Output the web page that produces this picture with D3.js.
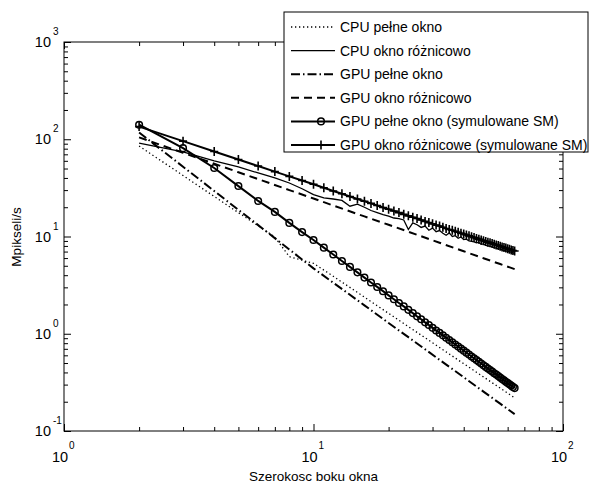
<!DOCTYPE html>
<html>
<head>
<meta charset="utf-8">
<script src="https://cdnjs.cloudflare.com/ajax/libs/d3/7.8.5/d3.min.js"></script>
<style>
  body { margin: 0; background: #fff; }
  text { font-family: "Liberation Sans", Arial, sans-serif; fill: #000; }
</style>
</head>
<body>
<div id="chart"></div>
<script>
// window widths (x) shared by the two marker series
const winX = [2,3,4,5,6,7,8,9,10,11,12,13,14,15,16,17,18,19,20,21,22,23,24,25,26,27,28,29,30,31,32,33,
  34,35,36,37,38,39,40,41,42,43,44,45,46,47,48,49,50,51,52,53,54,55,56,57,58,59,60,61,62,63,64];

// GPU pelne okno (symulowane SM) - circles
const gpuFullSim = [141,81,50.6,33.0,23.2,17.9,13.8,11.1,9.2,7.68,6.52,5.60,4.87,4.28,3.78,3.37,3.03,2.74,2.48,
  2.26,2.07,1.91,1.76,1.63,1.51,1.41,1.31,1.23,1.15,1.08,1.02,0.963,0.911,0.862,0.817,0.776,0.738,0.703,0.670,
  0.639,0.611,0.584,0.559,0.536,0.514,0.494,0.475,0.456,0.439,0.423,0.408,0.393,0.380,0.367,0.355,0.343,0.332,
  0.321,0.311,0.302,0.293,0.284,0.276];

// GPU okno roznicowe (symulowane SM) - plus
const gpuDiffSim = [135,95.6,74.8,61.9,53.0,46.5,41.5,37.6,34.4,31.7,29.4,27.5,25.8,24.3,23.0,21.9,20.8,19.9,19.05,
  18.3,17.6,16.9,16.3,15.8,15.3,14.8,14.3,13.9,13.5,13.1,12.8,12.45,12.1,11.8,11.6,11.3,11.05,10.8,10.6,10.35,
  10.15,9.94,9.75,9.56,9.39,9.22,9.05,8.90,8.75,8.60,8.46,8.32,8.19,8.07,7.94,7.82,7.71,7.60,7.49,7.38,7.28,7.19,7.09];

// CPU okno roznicowo - thin solid, noisy
const cpuDiff = [91,74,60,52,45,40,35.5,31,27,25,24.3,23.5,20.5,21.5,20,18.5,17.6,16.8,16.2,15.5,15.3,14.8,11.8,
  13.8,13.2,12.4,12.8,11.6,12.2,11.2,11.5,10.8,10.3,10.9,10.0,10.2,9.6,9.9,9.3,9.4,9.0,8.9,8.8,8.6,8.7,8.3,8.4,
  8.1,8.0,7.9,7.8,7.7,7.6,7.5,7.4,7.3,7.2,7.1,7.05,6.95,6.9,6.8,6.7];

// sparser readings for the straight series
const cpuFullX = [2,3,4,5,6,7,8,9,10,12,16,20,24,32,40,48,56,64];
const cpuFull  = [85.1,42.4,25.8,17.6,12.9,9.86,6.2,5.7,5.3,3.90,2.38,1.62,1.185,0.723,0.492,0.360,0.276,0.219];

const gpuX = [2,3,4,5,6,8,10,12,16,20,24,32,40,48,56,64];
const gpuFull = [117.5,52.2,29.4,18.8,13.1,7.35,4.70,3.35,1.96,1.29,0.922,0.540,0.357,0.254,0.191,0.149];
const gpuDiff = [104.5,72.6,56.0,45.8,38.9,30.0,24.6,20.8,16.1,13.2,11.2,8.62,7.05,5.98,5.21,4.62];

const legendNames = ["CPU pełne okno", "CPU okno różnicowo", "GPU pełne okno", "GPU okno różnicowo",
  "GPU pełne okno (symulowane SM)", "GPU okno różnicowe (symulowane SM)"];

const width = 590, height = 485,
  margin = ({ top: 42, right: 27, bottom: 54, left: 64 });

const svg = d3.select("#chart").append("svg")
  .attr("width", width).attr("height", height);

const x = d3.scaleLog().domain([1, 100]).range([margin.left, width - margin.right]);
const y = d3.scaleLog().domain([0.1, 1000]).range([height - margin.bottom, margin.top]);

const series = [
  { xs: cpuFullX, ys: cpuFull, width: 1.3, dash: "1.3,2.7" },
  { xs: winX, ys: cpuDiff, width: 1.3, dash: null },
  { xs: gpuX, ys: gpuFull, width: 2, dash: "9,3,1.5,3" },
  { xs: gpuX, ys: gpuDiff, width: 2, dash: "8,5" },
  { xs: winX, ys: gpuFullSim, width: 2, dash: null, marker: "circle" },
  { xs: winX, ys: gpuDiffSim, width: 2, dash: null, marker: "plus" }
];

// ticks
const majorX = [1, 10, 100], majorY = [0.1, 1, 10, 100, 1000];
const minorX = x.ticks().filter(d => !majorX.includes(d));
const minorY = y.ticks().filter(d => !majorY.some(m => Math.abs(m - d) < 1e-9));

function tickGroup(axis, transform) {
  const g = svg.append("g").attr("transform", transform).call(axis);
  g.select(".domain").remove();
  g.selectAll("line").attr("stroke", "#000");
}
const bottomY = height - margin.bottom, rightX = width - margin.right;
tickGroup(d3.axisBottom(x).tickValues(minorX).tickSize(-4).tickFormat(""), `translate(0,${bottomY})`);
tickGroup(d3.axisBottom(x).tickValues(majorX).tickSize(-7).tickFormat(""), `translate(0,${bottomY})`);
tickGroup(d3.axisTop(x).tickValues(minorX).tickSize(-4).tickFormat(""), `translate(0,${margin.top})`);
tickGroup(d3.axisTop(x).tickValues(majorX).tickSize(-7).tickFormat(""), `translate(0,${margin.top})`);
tickGroup(d3.axisLeft(y).tickValues(minorY).tickSize(-4).tickFormat(""), `translate(${margin.left},0)`);
tickGroup(d3.axisLeft(y).tickValues(majorY).tickSize(-7).tickFormat(""), `translate(${margin.left},0)`);
tickGroup(d3.axisRight(y).tickValues(minorY).tickSize(-4).tickFormat(""), `translate(${rightX},0)`);
tickGroup(d3.axisRight(y).tickValues(majorY).tickSize(-7).tickFormat(""), `translate(${rightX},0)`);

svg.append("rect")
  .attr("x", margin.left).attr("y", margin.top)
  .attr("width", rightX - margin.left).attr("height", bottomY - margin.top)
  .attr("fill", "none").attr("stroke", "#000");

// tick labels with exponents
function powLabel(px, py, exp, anchorRight) {
  const t = svg.append("text").attr("font-size", 14.5);
  if (anchorRight) {
    t.attr("x", px).attr("y", py).attr("text-anchor", "end").text("10");
    svg.append("text").attr("font-size", 10).attr("x", px + 2).attr("y", py - 12).text(exp);
  } else {
    t.attr("x", px).attr("y", py).attr("text-anchor", "middle").text("10");
    svg.append("text").attr("font-size", 10).attr("x", px + 9).attr("y", py - 13).text(exp);
  }
}
majorX.forEach(d => powLabel(x(d) - 4, 462, String(Math.round(Math.log10(d))), false));
majorY.forEach(d => powLabel(51, y(d) + 5, String(Math.round(Math.log10(d))), true));

// axis titles
svg.append("text")
  .attr("text-anchor", "middle")
  .attr("x", (margin.left + rightX) / 2)
  .attr("y", 481)
  .attr("font-size", 13.5)
  .text("Szerokosc boku okna");

svg.append("text")
  .attr("text-anchor", "middle")
  .attr("transform", `translate(21,237) rotate(-90)`)
  .attr("font-size", 13.5)
  .text("Mpikseli/s");

// lines
const plot = svg.append("g");
series.forEach(s => {
  const pts = s.xs.map((d, i) => [d, s.ys[i]]);
  const line = d3.line().x(d => x(d[0])).y(d => y(d[1]));
  plot.append("path")
    .datum(pts)
    .attr("fill", "none")
    .attr("stroke", "#000")
    .attr("stroke-width", s.width)
    .attr("stroke-dasharray", s.dash)
    .attr("d", line);
  if (s.marker === "circle") {
    plot.selectAll(null).data(pts).join("circle")
      .attr("cx", d => x(d[0])).attr("cy", d => y(d[1]))
      .attr("r", 3.3).attr("fill", "none").attr("stroke", "#000").attr("stroke-width", 1.5);
  } else if (s.marker === "plus") {
    plot.selectAll(null).data(pts).join("path")
      .attr("transform", d => `translate(${x(d[0])},${y(d[1])})`)
      .attr("d", "M-4,0H4M0,-4.5V4.5")
      .attr("stroke", "#000").attr("stroke-width", 1.6);
  }
});

// legend
const leg = svg.append("g");
leg.append("rect")
  .attr("x", 284).attr("y", 12).attr("width", 304).attr("height", 140)
  .attr("fill", "#fff").attr("stroke", "#000");

legendNames.forEach((name, i) => {
  const s = series[i], ly = 27 + i * 23.6;
  leg.append("line")
    .attr("x1", 291).attr("x2", 335).attr("y1", ly).attr("y2", ly)
    .attr("stroke", "#000").attr("stroke-width", s.width)
    .attr("stroke-dasharray", s.dash);
  if (s.marker === "circle") {
    leg.append("circle").attr("cx", 321).attr("cy", ly).attr("r", 3.3)
      .attr("fill", "none").attr("stroke", "#000").attr("stroke-width", 1.5);
  } else if (s.marker === "plus") {
    leg.append("path").attr("transform", `translate(321,${ly})`)
      .attr("d", "M-4,0H4M0,-4.5V4.5").attr("stroke", "#000").attr("stroke-width", 1.6);
  }
  leg.append("text")
    .attr("x", 340).attr("y", ly + 5)
    .attr("font-size", 14)
    .text(name);
});
</script>
</body>
</html>
